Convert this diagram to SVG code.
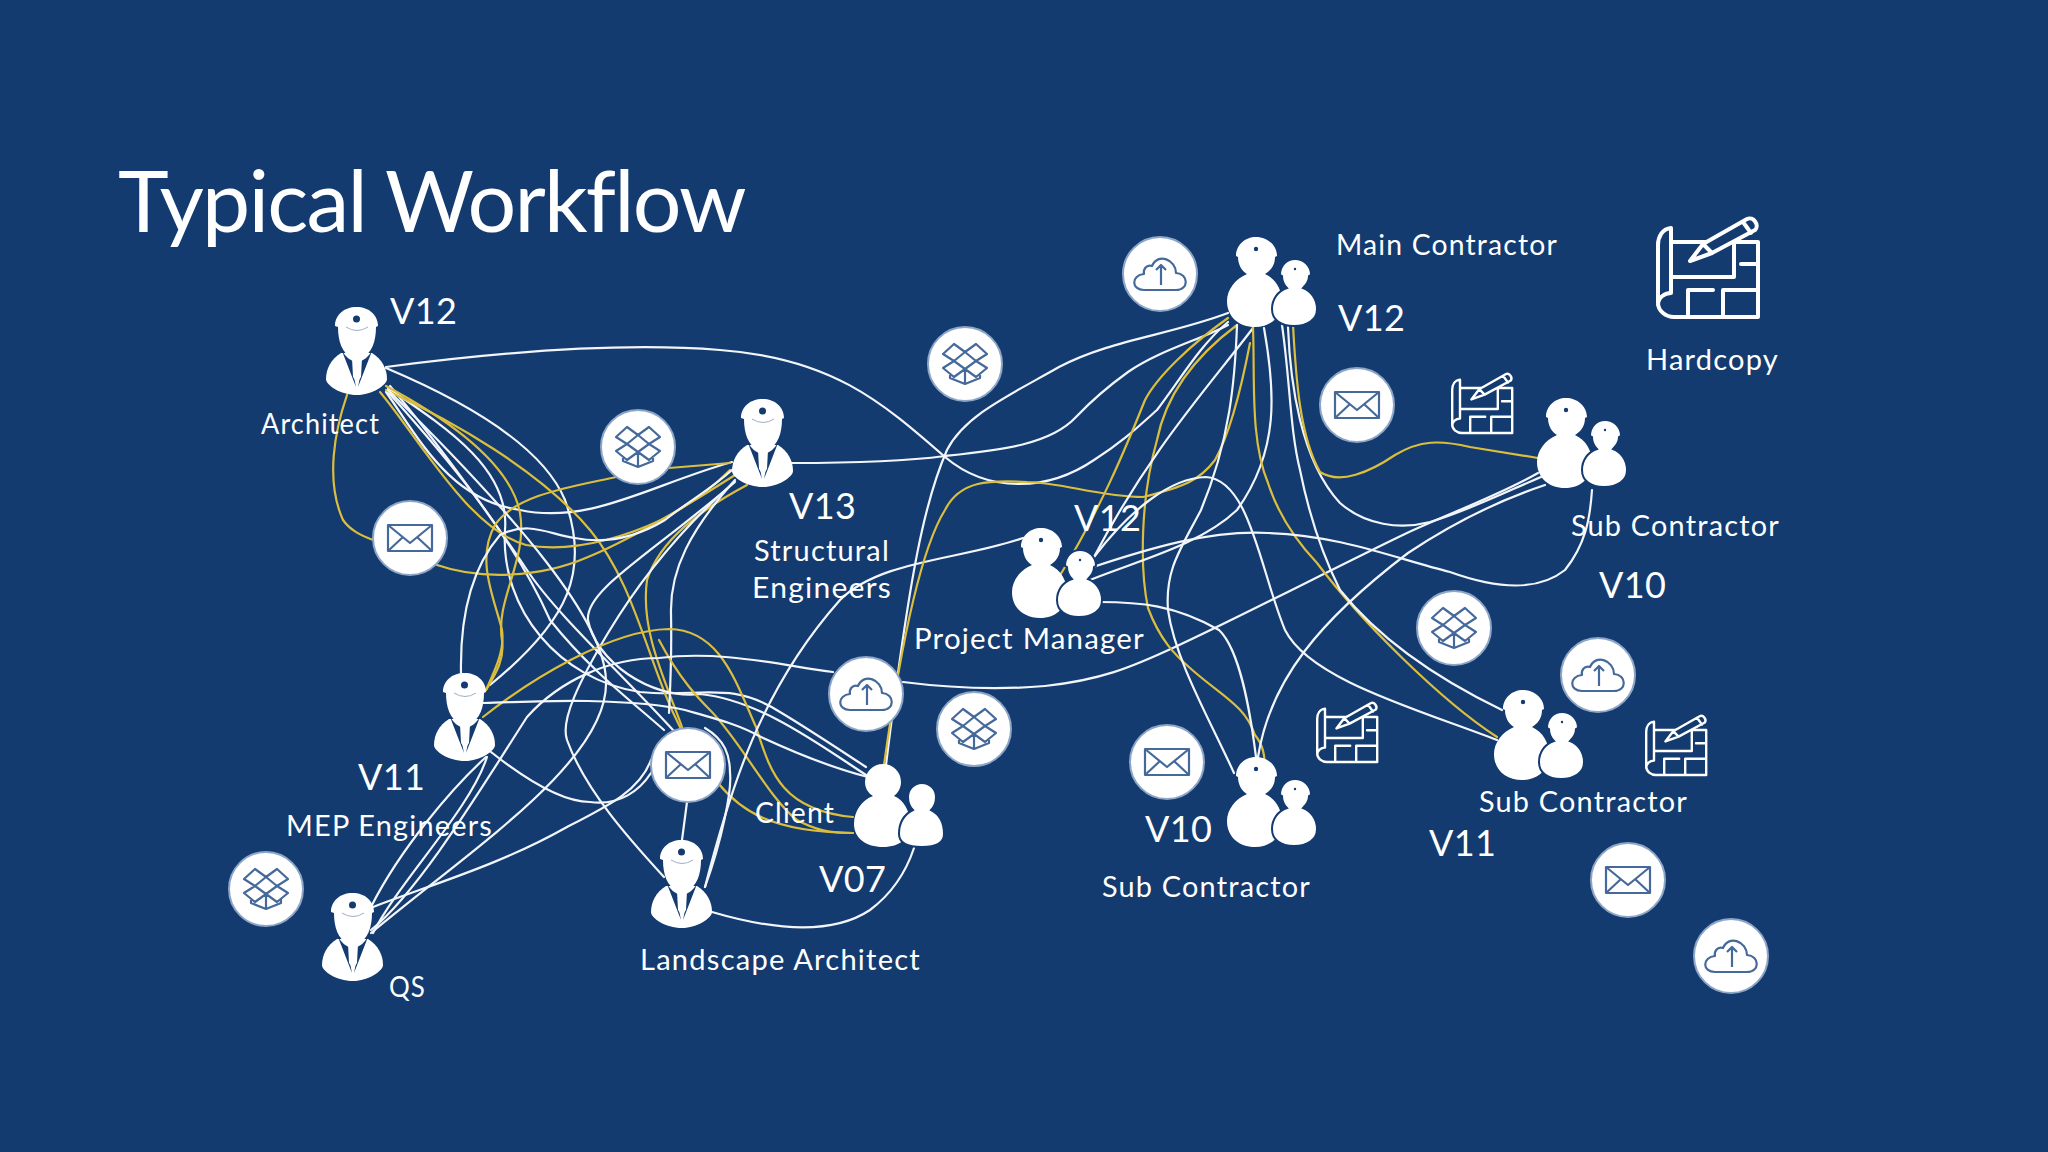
<svg xmlns="http://www.w3.org/2000/svg" width="2048" height="1152" viewBox="0 0 2048 1152">
<style>
text{font-family:"Lato","Carlito","Liberation Sans",sans-serif;fill:#fff}
.t{font-size:86px;letter-spacing:-1.800px}
.v{font-size:36px;letter-spacing:.4px}
.l{font-size:29px;letter-spacing:1.200px}
.w,.y{fill:none;stroke-width:2.200;stroke-linecap:round}
.w{stroke:#f2f5fa}
.y{stroke:#dcbe3e}
.disc{fill:#fff;stroke:#8ea6c6;stroke-width:2}
.ic{fill:none;stroke:#45699a;stroke-width:2.200;stroke-linejoin:round}
.pl{fill:none;stroke:#fff;stroke-width:4;stroke-linejoin:round;stroke-linecap:round}
.dk{fill:#133b70}
</style>
<defs>
<g id="person">
<path fill="#fff" d="M15,46C5,52 0,62 0,72C0,78 14,88 31,88C46,88 61,78 61,72C61,62 56,52 46,46Z"/>
<path class="dk" d="M16,44C20,50 24,53 27,54L28,70L30,80ZM46,44C42,50 38,53 35,54L34,70L32,80Z"/>
<path fill="#fff" d="M9,19C9,8 18,0 30.500,0C43,0 52,8 52,19L50,20C50,34 46,46 36,51L35,70L31,76L27,70L26,51C16,46 12,34 12,20Z"/>
<circle class="dk" cx="30.500" cy="12" r="3.500"/>
<path d="M20,20Q31,27 42,20" fill="none" stroke="#9fb0c6" stroke-width="1"/>
</g>
<g id="pair">
<path fill="#fff" d="M9,19C9,8 18,0 29,0C40,0 50,8 50,19L48,20C48,29 43,34 38,37C49,42 55,53 55,64C55,80 44,90 28,90C12,90 0,80 0,64C0,53 8,42 20,37C15,34 11,28 11,20Z"/>
<path fill="#fff" stroke="#133b70" stroke-width="2" d="M53,38C53,28 60,22 68,22C76,22 84,28 84,38L82,39C82,44 79,48 76,51C84,54 90,62 90,72C90,83 80,89 67,89C54,89 45,83 45,72C45,62 51,54 60,51C57,48 55,43 55,39Z"/>
<circle class="dk" cx="29" cy="12" r="2.200"/>
<circle class="dk" cx="68" cy="32" r="1.200"/>
</g>
<g id="pairplain">
<path fill="#fff" d="M11,18a18,18 0 1 1 36,0C47,24 44,29 40,32C50,36 56,47 56,60C56,74 46,83 29,83C12,83 0,74 0,60C0,47 8,36 19,32C14,29 11,24 11,18Z"/>
<path fill="#fff" stroke="#133b70" stroke-width="2" d="M54,33a14,14 0 1 1 28,0C82,39 80,43 77,46C85,50 90,58 90,70C90,78 84,83 68,83C52,83 45,78 45,70C45,58 51,50 59,46C56,43 54,39 54,33Z"/>
</g>
<g id="mail"><circle class="disc" r="37"/><g class="ic"><rect x="-22" y="-13" width="44" height="26"/><path d="M-22,-13L0,5L22,-13M-22,13L-7,-1M22,13L7,-1"/></g></g>
<g id="box"><circle class="disc" r="37"/><g class="ic"><path d="M-22,-10L-11,-20L0,-12L-11,-3ZM0,-12L11,-20L22,-10L11,-3ZM-22,4L-11,-3L0,5L-11,13ZM0,5L11,-3L22,4L11,13ZM-15,9V14L0,20L15,14V9M0,20V5"/></g></g>
<g id="cloud"><circle class="disc" r="37"/><g class="ic"><path d="M-16,16H16C29,16 29,0 16,-1C16,-14 -2,-22 -8,-8C-14,-10 -17,-4 -16,0C-29,1 -29,16 -16,16ZM1,11V-9M-4,-4L1,-9L6,-4"/></g></g>
<g id="plan"><path class="pl" d="M15,11C6,12 2,20 2,28V86C2,94 10,100 18,100H102V25H17M15,11V76C8,76 2,81 2,88M17,60H78V26M85,47H102M32,100V73H57M67,100V73H102"/><path class="pl" style="fill:#133b70" d="M34,44L47,27L91,2C97,-1 104,8 99,13L56,36ZM47,27L56,36M87,5L95,16"/></g>
</defs>
<rect width="2048" height="1152" fill="#133b70"/>
<g id="connectors">
<path class="w" d="M386,367C500,352 620,342 720,350C830,358 880,400 945,457C990,495 1050,490 1094,460C1125,440 1140,425 1157,410C1180,380 1200,345 1228,322"/>
<path class="w" d="M386,368C450,395 540,440 565,500C590,570 570,620 490,685"/>
<path class="w" d="M388,388C450,430 510,470 505,530C500,610 560,680 640,692C700,698 730,680 780,712C810,730 840,750 866,767"/>
<path class="w" d="M388,392C440,450 510,530 550,620C590,670 630,700 664,730"/>
<path class="w" d="M386,392C420,440 450,500 520,510C590,525 650,485 732,462"/>
<path class="w" d="M390,386C440,445 500,530 527,570C560,620 640,690 700,760"/>
<path class="y" d="M386,390C450,420 540,470 590,530C640,590 650,680 690,745"/>
<path class="y" d="M380,392C420,440 470,530 526,545C580,555 640,530 661,520C690,505 710,490 730,470"/>
<path class="y" d="M386,386C440,415 510,460 520,513C528,560 495,600 502,640C505,660 495,675 486,690"/>
<path class="y" d="M347,395C335,430 325,480 343,520C350,530 360,535 373,540"/>
<path class="y" d="M437,565C480,580 540,578 588,557C630,540 680,510 735,475"/>
<path class="y" d="M616,477C570,487 515,495 495,525C475,560 495,600 502,630C505,650 495,670 486,690"/>
<path class="y" d="M669,468L730,463"/>
<path class="w" d="M792,463C850,463 900,462 945,456C1000,450 1050,445 1076,417C1095,397 1110,385 1128,372C1160,350 1200,340 1228,325"/>
<path class="w" d="M461,673C460,620 470,570 500,535C530,520 550,535 575,538C610,545 640,535 665,520C690,500 710,490 732,470"/>
<path class="y" d="M747,485C700,510 660,540 647,580C640,630 665,680 682,727"/>
<path class="w" d="M735,482C650,555 585,590 588,620C595,660 650,700 700,694C760,700 820,745 866,775"/>
<path class="w" d="M735,480C690,530 670,570 671,613C672,660 670,690 669,713"/>
<path class="w" d="M732,484C680,530 640,580 608,633C580,680 560,720 567,740C585,790 630,840 664,877"/>
<path class="y" d="M483,717C530,680 610,630 669,629C720,630 735,680 756,727C770,770 780,810 853,817"/>
<path class="y" d="M718,783C740,810 770,832 853,833"/>
<path class="y" d="M659,640C680,680 700,700 710,710C740,740 770,800 797,820C815,830 830,833 853,833"/>
<path class="w" d="M483,703C520,702 560,700 588,701C630,702 660,704 685,710C720,720 740,725 761,737C800,755 840,770 868,777"/>
<path class="w" d="M491,752C520,775 560,802 590,802C620,806 640,790 651,773"/>
<path class="w" d="M373,907C430,885 500,865 567,827C610,805 640,790 651,760"/>
<path class="w" d="M371,930C420,890 480,790 527,717C560,680 610,658 659,658C720,650 780,665 833,672"/>
<path class="w" d="M372,905C400,850 450,790 486,757"/>
<path class="w" d="M373,933C400,880 470,810 487,757"/>
<path class="w" d="M371,933C470,850 610,760 606,680C604,620 520,520 388,390"/>
<path class="w" d="M903,682C950,688 1000,690 1045,686C1100,680 1130,668 1175,647C1240,617 1340,565 1407,533C1450,513 1500,495 1538,473"/>
<path class="w" d="M705,887C730,790 760,690 840,600C880,560 960,560 1023,538"/>
<path class="w" d="M1228,313C1170,335 1110,340 1059,367C1010,395 965,415 947,450C925,500 910,570 886,765"/>
<path class="y" d="M1250,343C1240,395 1228,437 1215,460C1200,480 1184,487 1143,497C1100,497 1060,482 1027,482C990,480 960,480 945,510C920,550 900,650 884,765"/>
<path class="y" d="M1228,318C1190,345 1157,377 1145,400C1125,450 1100,510 1059,577"/>
<path class="y" d="M1237,325C1190,360 1165,400 1157,440C1140,500 1140,570 1148,608C1160,640 1175,655 1190,668C1220,695 1245,705 1255,735C1263,745 1265,755 1265,770"/>
<path class="w" d="M1253,328C1210,385 1150,450 1094,557"/>
<path class="w" d="M1237,325C1235,380 1230,440 1201,510C1180,550 1165,570 1168,610C1175,660 1210,720 1234,773"/>
<path class="w" d="M1264,328C1275,390 1280,450 1237,510C1200,545 1140,560 1090,580"/>
<path class="y" d="M1253,328C1255,380 1250,440 1268,483C1280,520 1300,545 1317,563C1360,620 1440,700 1497,737"/>
<path class="w" d="M1282,325C1290,380 1290,430 1300,470C1310,520 1325,560 1340,590C1380,640 1440,680 1502,710"/>
<path class="w" d="M1288,327C1290,380 1300,460 1340,503C1365,525 1400,530 1430,522C1470,510 1510,490 1541,477"/>
<path class="y" d="M1293,325C1296,380 1300,437 1320,472C1340,485 1370,472 1395,455C1420,440 1440,440 1470,447C1500,452 1520,455 1538,458"/>
<path class="w" d="M1090,568C1150,548 1210,530 1268,533C1340,535 1400,560 1450,572C1500,590 1540,590 1565,570C1585,545 1590,520 1592,490"/>
<path class="w" d="M1099,602C1140,602 1175,605 1219,630C1240,650 1250,710 1256,757"/>
<path class="w" d="M1258,757C1270,680 1320,620 1408,553C1450,525 1500,500 1545,485"/>
<path class="w" d="M1094,557C1130,510 1170,478 1206,477C1250,480 1260,570 1285,630C1310,680 1420,710 1497,740"/>
<path class="w" d="M914,848C905,875 890,895 870,910C840,930 790,935 712,912"/>
<path class="w" d="M687,802L682,840"/>
<path class="w" d="M705,887C722,840 732,790 730,773C730,755 725,740 705,728"/>
</g>
<text class="t" x="118" y="232">Typical Workflow</text>
<g id="architect"><use href="#person" x="326" y="307"/><text class="v" x="390" y="324">V12</text><text class="l" x="261" y="434" textLength="119" lengthAdjust="spacingAndGlyphs">Architect</text></g>
<g id="structural"><use href="#person" x="732" y="399"/><text class="v" x="789" y="519">V13</text><text class="l" x="754" y="561" textLength="136" lengthAdjust="spacingAndGlyphs">Structural</text><text class="l" x="752" y="598" textLength="140" lengthAdjust="spacingAndGlyphs">Engineers</text></g>
<g id="mep"><use href="#person" x="434" y="673"/><text class="v" x="358" y="790">V11</text><text class="l" x="286" y="836" textLength="207" lengthAdjust="spacingAndGlyphs">MEP Engineers</text></g>
<g id="qs"><use href="#person" x="322" y="893"/><text class="l" x="389" y="997" textLength="37" lengthAdjust="spacingAndGlyphs">QS</text></g>
<g id="landscape"><use href="#person" x="651" y="840"/><text class="l" x="640" y="970" textLength="281" lengthAdjust="spacingAndGlyphs">Landscape Architect</text></g>
<g id="client"><use href="#pairplain" x="854" y="764"/><text class="l" x="755" y="823" textLength="80" lengthAdjust="spacingAndGlyphs">Client</text><text class="v" x="819" y="892">V07</text></g>
<g id="project-manager"><use href="#pair" x="1012" y="528"/><text class="l" x="914" y="649" textLength="231" lengthAdjust="spacingAndGlyphs">Project Manager</text><text class="v" x="1074" y="531">V12</text></g>
<g id="main-contractor"><use href="#pair" x="1227" y="237"/><text class="l" x="1336" y="255" textLength="222" lengthAdjust="spacingAndGlyphs">Main Contractor</text><text class="v" x="1338" y="331">V12</text></g>
<g id="sub-top"><use href="#pair" x="1537" y="398"/><text class="l" x="1571" y="536" textLength="209" lengthAdjust="spacingAndGlyphs">Sub Contractor</text><text class="v" x="1599" y="598">V10</text></g>
<g id="sub-v11"><use href="#pair" x="1494" y="690"/><text class="l" x="1479" y="812" textLength="209" lengthAdjust="spacingAndGlyphs">Sub Contractor</text><text class="v" x="1429" y="856">V11</text></g>
<g id="sub-v10"><use href="#pair" x="1227" y="757"/><text class="l" x="1102" y="897" textLength="209" lengthAdjust="spacingAndGlyphs">Sub Contractor</text><text class="v" x="1145" y="842">V10</text></g>
<g id="hardcopy"><use href="#plan" x="1656" y="217"/><text class="l" x="1646" y="370" textLength="133" lengthAdjust="spacingAndGlyphs">Hardcopy</text></g>
<g id="icons">
<use href="#mail" x="410" y="538"/>
<use href="#box" x="638" y="447"/>
<use href="#cloud" x="1160" y="274"/>
<use href="#box" x="965" y="364"/>
<use href="#mail" x="1357" y="405"/>
<use href="#cloud" x="866" y="694"/>
<use href="#box" x="974" y="729"/>
<use href="#mail" x="688" y="765"/>
<use href="#box" x="266" y="889"/>
<use href="#mail" x="1167" y="762"/>
<use href="#box" x="1454" y="628"/>
<use href="#cloud" x="1598" y="675"/>
<use href="#mail" x="1628" y="880"/>
<use href="#cloud" x="1731" y="956"/>
<use href="#plan" transform="translate(1451 373) scale(.6)"/>
<use href="#plan" transform="translate(1316 702) scale(.6)"/>
<use href="#plan" transform="translate(1645 715) scale(.6)"/>
</g>
</svg>
